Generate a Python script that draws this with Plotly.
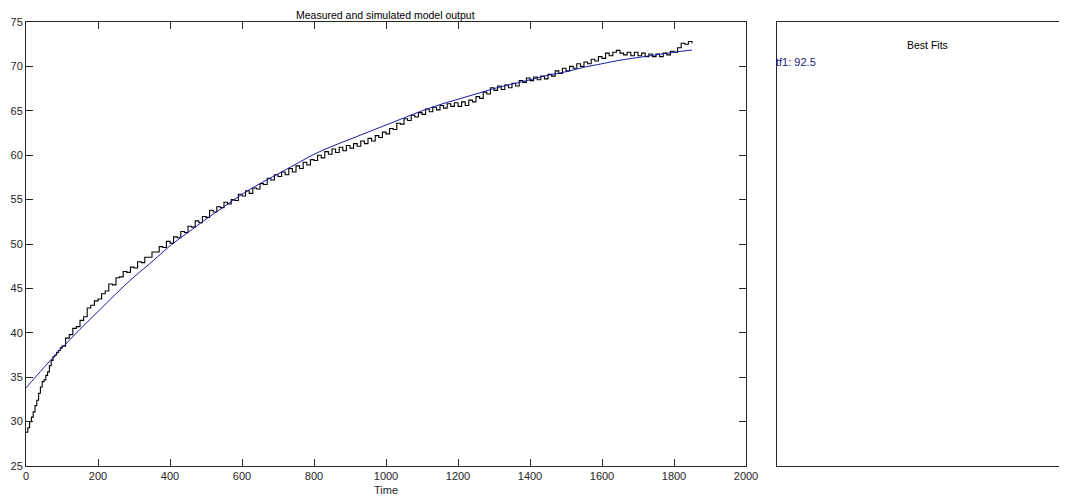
import plotly.graph_objects as go

# ---- data ----
meas_time = list(range(0, 100, 5)) + list(range(100, 1851, 10))
measured = [28.8, 29.3, 30.0, 30.5, 31.1, 31.8, 32.4, 33.2, 33.9, 34.5,
            34.7, 35.2, 35.6, 36.3, 36.9, 37.3, 37.5, 37.8, 38.0, 38.3,
            38.5, 39.4, 39.8, 40.5, 40.7, 41.4, 41.8, 42.8, 43.1, 43.6,
            43.8, 44.4, 44.7, 45.5, 45.4, 46.2, 46.3, 46.9, 46.8, 47.4,
            47.3, 48.0, 47.9, 48.5, 48.5, 49.1, 49.1, 49.7, 49.6, 50.3,
            50.1, 50.8, 50.7, 51.4, 51.3, 52.0, 51.9, 52.6, 52.4, 53.1,
            53.0, 53.8, 53.6, 54.2, 54.1, 54.7, 54.5, 55.0, 54.9, 55.6,
            55.4, 56.0, 55.7, 56.3, 56.2, 56.8, 56.7, 57.4, 57.2, 57.8,
            57.6, 58.1, 57.8, 58.5, 58.1, 58.8, 58.5, 59.2, 58.9, 59.5,
            59.4, 60.0, 59.7, 60.4, 60.1, 60.7, 60.3, 60.9, 60.5, 61.1,
            60.8, 61.3, 61.0, 61.6, 61.3, 61.9, 61.6, 62.2, 62.0, 62.6,
            62.4, 63.0, 62.9, 63.6, 63.5, 64.1, 63.9, 64.5, 64.3, 64.8,
            64.6, 65.2, 64.9, 65.4, 65.1, 65.6, 65.3, 65.8, 65.5, 65.9,
            65.5, 66.0, 65.6, 66.2, 66.0, 66.6, 66.4, 67.1, 66.9, 67.6,
            67.3, 67.8, 67.4, 67.9, 67.6, 68.1, 67.8, 68.4, 68.2, 68.7,
            68.4, 68.8, 68.5, 68.9, 68.6, 69.1, 68.9, 69.5, 69.2, 69.8,
            69.5, 70.0, 69.8, 70.3, 70.0, 70.5, 70.3, 70.8, 70.6, 71.1,
            70.9, 71.5, 71.2, 71.6, 71.8, 71.5, 71.3, 71.6, 71.2, 71.6,
            71.2, 71.5, 71.1, 71.4, 71.1, 71.4, 71.1, 71.5, 71.3, 71.7,
            71.6, 72.1, 72.6, 72.5, 72.8, 72.6]

sim_time = list(range(0, 1851, 50))
simulated = [33.8, 36.1, 38.3, 40.4, 42.4, 44.4, 46.3, 48.0, 49.8, 51.3,
             52.8, 54.2, 55.6, 56.8, 57.9, 59.0, 60.1, 61.0, 61.8, 62.6,
             63.4, 64.2, 65.0, 65.7, 66.3, 66.9, 67.5, 68.0, 68.5, 69.0,
             69.4, 69.9, 70.3, 70.7, 71.0, 71.3, 71.6, 71.85]

x_ticks = [0, 200, 400, 600, 800, 1000, 1200, 1400, 1600, 1800, 2000]
y_ticks = [25, 30, 35, 40, 45, 50, 55, 60, 65, 70, 75]

title_text = "Measured and simulated model output"
x_label = "Time"
fits_title = "Best Fits"
fits_entry = "tf1: 92.5"

# page is 1067x498; the html body adds an 8px margin, so the figure is
# sized to fill the remaining area
PW, PH = 1067, 498
OFF = 8
W, H = PW - OFF, PH - OFF


def px(x):  # page x pixel -> paper fraction
    return (x - OFF) / W


def py(y):  # page y pixel -> paper fraction
    return (PH - y) / H


FONT = "Liberation Sans, Arial, sans-serif"
AXC = "#262626"

fig = go.Figure()
fig.add_trace(go.Scatter(x=meas_time, y=measured, mode="lines",
                         line=dict(color="black", width=1.1, shape="hv"),
                         showlegend=False, xaxis="x", yaxis="y",
                         hoverinfo="skip"))
fig.add_trace(go.Scatter(x=sim_time, y=simulated, mode="lines",
                         line=dict(color="#1c1ca8", width=1, shape="spline"),
                         showlegend=False, xaxis="x", yaxis="y"))
# empty trace so the "Best Fits" panel axes get drawn
fig.add_trace(go.Scatter(x=[None], y=[None], mode="lines", showlegend=False,
                         xaxis="x2", yaxis="y2", hoverinfo="skip"))

fig.update_layout(
    width=W, height=H,
    margin=dict(l=0, r=0, t=0, b=0, autoexpand=False),
    paper_bgcolor="white", plot_bgcolor="white",
    font=dict(family=FONT, size=11, color=AXC),
    xaxis=dict(domain=[px(26), px(746)], range=[0, 2000], tickvals=x_ticks,
               ticks="inside", ticklen=7, tickcolor=AXC, showline=True,
               linecolor=AXC, linewidth=1, mirror="ticks", showgrid=False,
               zeroline=False, tickfont=dict(size=11, color=AXC), anchor="y",
               automargin=False),
    yaxis=dict(domain=[py(466), py(22)], range=[25, 75], tickvals=y_ticks,
               ticks="inside", ticklen=7, tickcolor=AXC, showline=True,
               linecolor=AXC, linewidth=1, mirror="ticks", showgrid=False,
               zeroline=False, tickfont=dict(size=11, color=AXC), anchor="x",
               automargin=False),
    xaxis2=dict(domain=[px(777), 1.0], range=[0, 1], showticklabels=False,
                ticks="", showline=True, linecolor=AXC, linewidth=1,
                mirror=True, showgrid=False, zeroline=False, anchor="y2",
                automargin=False),
    yaxis2=dict(domain=[py(466), py(22)], range=[0, 1], showticklabels=False,
                ticks="", showline=True, linecolor=AXC, linewidth=1,
                mirror=False, showgrid=False, zeroline=False, anchor="x2",
                automargin=False),
    annotations=[
        dict(text=title_text, x=px(386), y=py(15), xref="paper", yref="paper",
             xanchor="center", yanchor="middle", showarrow=False,
             font=dict(size=10.5, color="black", family=FONT)),
        dict(text=x_label, x=px(386), y=py(490), xref="paper", yref="paper",
             xanchor="center", yanchor="middle", showarrow=False,
             font=dict(size=11, color=AXC, family=FONT)),
        dict(text=fits_title, x=px(927), y=py(45), xref="paper", yref="paper",
             xanchor="center", yanchor="middle", showarrow=False,
             font=dict(size=10.5, color="black", family=FONT)),
        dict(text=fits_entry, x=px(774), y=py(62), xref="paper", yref="paper",
             xanchor="left", yanchor="middle", showarrow=False,
             font=dict(size=11, color="#1a1a7a", family=FONT)),
    ],
)

fig.write_html("out.html")
